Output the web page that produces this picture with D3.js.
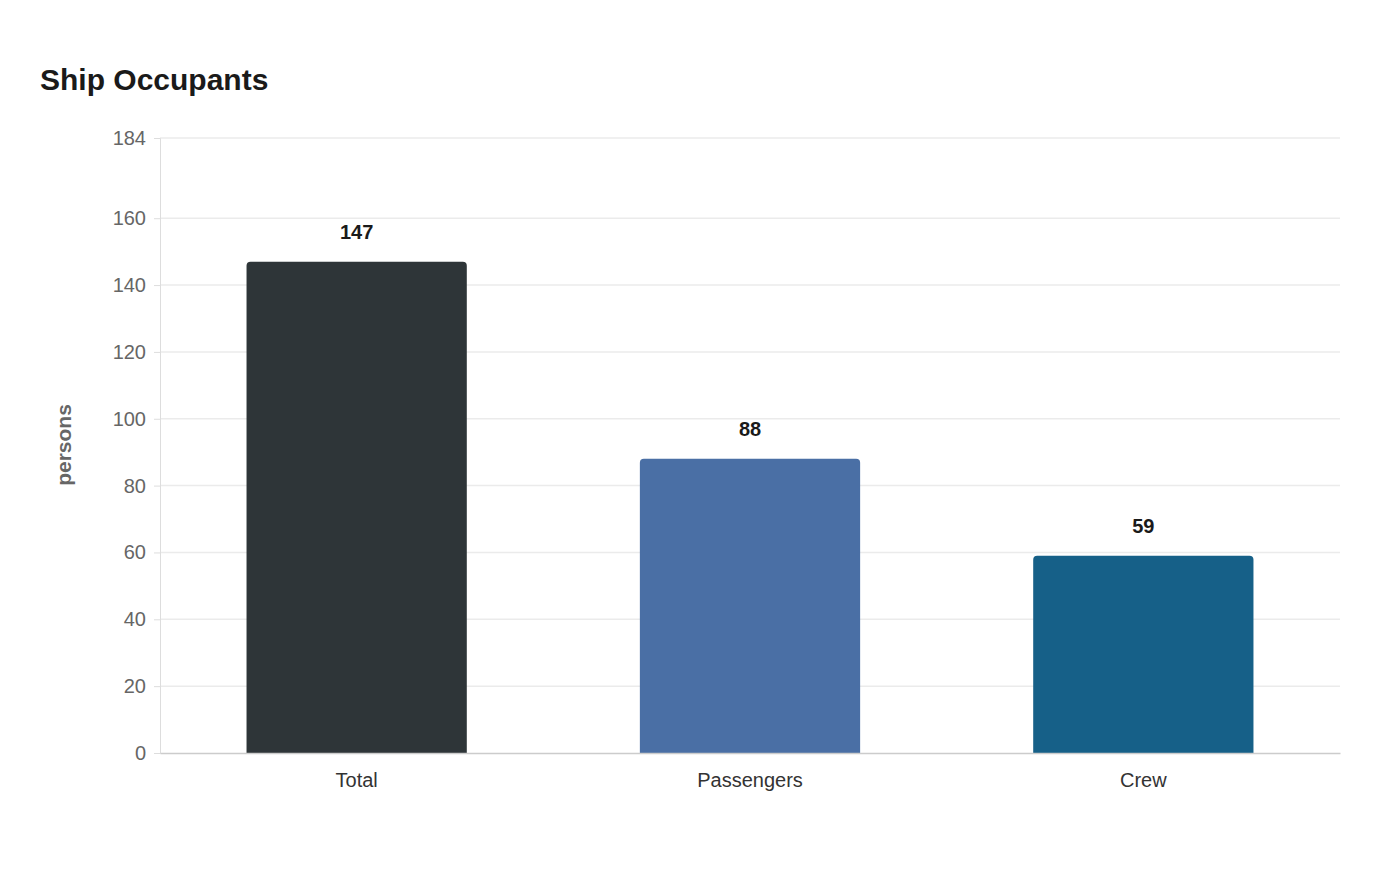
<!DOCTYPE html>
<html><head><meta charset="utf-8">
<script src="https://cdn.jsdelivr.net/npm/d3@7"></script>
<style>body{margin:0;background:#fff;font-family:"Liberation Sans",Arial,sans-serif}</style>
</head><body><svg id="c" width="1400" height="880"></svg>
<script>
const categories=["Total","Passengers","Crew"];
const values=[147,88,59];
const colors=["#2e3538","#4a6fa5","#166088"];
const yTicks=[0,20,40,60,80,100,120,140,160,184];
const title="Ship Occupants", yLabel="persons";

const svg=d3.select("#c");
const m={l:160,r:1340,t:138,b:753};
const x=d3.scaleBand().domain(categories).range([m.l,m.r]).paddingInner(0.44).paddingOuter(0.22);
const y=d3.scaleLinear().domain([0,184]).range([m.b,m.t]);

svg.append("text").attr("x",40).attr("y",90).attr("font-size",30).attr("font-weight","bold").attr("fill","#1a1a1a").text(title);

svg.append("g").selectAll("line").data(yTicks.filter(d=>d>0)).join("line")
 .attr("x1",m.l).attr("x2",m.r).attr("y1",d=>y(d)).attr("y2",d=>y(d)).attr("stroke","#ebebeb").attr("stroke-width",1.5);

const ya=svg.append("g").attr("transform",`translate(${m.l},0)`).call(d3.axisLeft(y).tickValues(yTicks).tickSize(6).tickPadding(8));
ya.select(".domain").attr("stroke","#ddd");
ya.selectAll(".tick line").attr("stroke","#ddd");
ya.selectAll("text").attr("font-size",20).attr("fill","#666").attr("font-family","Liberation Sans, Arial, sans-serif");

const r=4;
svg.append("g").selectAll("path").data(categories).join("path")
 .attr("fill",(d,i)=>colors[i])
 .attr("d",(d,i)=>{const x0=x(d),w=x.bandwidth(),y0=y(values[i]),y1=y(0);
   return `M${x0},${y1}V${y0+r}Q${x0},${y0} ${x0+r},${y0}H${x0+w-r}Q${x0+w},${y0} ${x0+w},${y0+r}V${y1}Z`;});

svg.append("g").selectAll("text").data(categories).join("text")
 .attr("x",d=>x(d)+x.bandwidth()/2).attr("y",(d,i)=>y(values[i])-23)
 .attr("text-anchor","middle").attr("font-size",20).attr("font-weight","bold").attr("fill","#1a1a1a")
 .text((d,i)=>values[i]);

const xa=svg.append("g").attr("transform",`translate(0,${m.b})`).call(d3.axisBottom(x).tickSize(0).tickPadding(20));
xa.select(".domain").attr("stroke","#ccc").attr("stroke-width",1.5);
xa.selectAll("text").attr("font-size",20).attr("fill","#333").attr("font-family","Liberation Sans, Arial, sans-serif");

svg.append("text").attr("transform",`translate(71,445) rotate(-90)`).attr("text-anchor","middle")
 .attr("font-size",21).attr("font-weight","bold").attr("fill","#666").text(yLabel);
</script></body></html>
